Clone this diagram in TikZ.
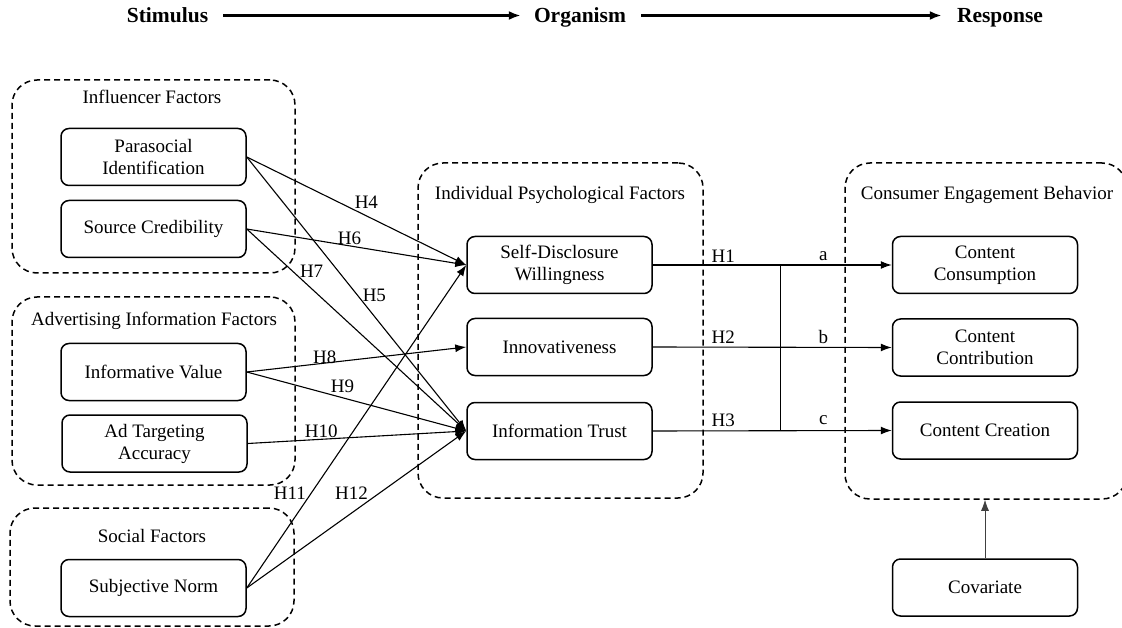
\documentclass[tikz,border=0pt]{standalone}
\usepackage{fontspec}
\setmainfont{Liberation Serif}
\usetikzlibrary{arrows.meta}
\begin{document}
\begin{tikzpicture}[x=1pt,y=-1pt,
  box/.style={draw, line width=1.5pt, rounded corners=8pt, minimum width=185pt, minimum height=57pt, align=center, font=\fontsize{19}{22}\selectfont, inner sep=2pt},
  grp/.style={draw, dash pattern=on 6pt off 4pt, line width=1.5pt, rounded corners=25pt, inner sep=0pt},
  ttl/.style={font=\fontsize{19}{22}\selectfont, inner sep=0pt},
  lbl/.style={font=\fontsize{19}{22}\selectfont, inner sep=0pt},
  arr/.style={line width=1.1pt, -{Latex[length=11pt,width=8pt]}},
  hdr/.style={font=\bfseries\fontsize{21.5}{24}\selectfont, inner sep=0pt, anchor=base},
  harr/.style={line width=2.5pt, -{Latex[length=12pt,width=9pt]}}]
\useasboundingbox (0,0) rectangle (1122,628);

% header
\node[hdr] (stim) at (167.5,23) {Stimulus};
\node[hdr] (org) at (580,23) {Organism};
\node[hdr] (resp) at (1000,23) {Response};
\draw[harr] ([xshift=15pt,yshift=7.5pt]stim.base east) -- ([xshift=-13pt,yshift=7.5pt]org.base west);
\draw[harr] ([xshift=15pt,yshift=7.5pt]org.base east) -- ([xshift=-15pt,yshift=7.5pt]resp.base west);

% groups
\node[grp, minimum width=283pt, minimum height=193pt] (ginf) at (153.5,176.5) {};
\node[grp, minimum width=283pt, minimum height=188pt] (gadv) at (153.5,391) {};
\node[grp, minimum width=284pt, minimum height=118pt] (gsoc) at (152,567) {};
\node[grp, minimum width=285pt, minimum height=335pt] (gind) at (560.5,330.5) {};
\node[grp, minimum width=282pt, minimum height=336pt] (ceb) at (986,331) {};

\node[ttl] (tinf) at (152,97) {Influencer Factors};
\node[ttl] (tadv) at (154,321) {Advertising Information Factors};
\node[ttl] (tsoc) at (152,536) {Social Factors};
\node[ttl] (tind) at (560,195) {Individual Psychological Factors};
\node[ttl] (tceb) at (987,195) {Consumer Engagement Behavior};

% boxes
\node[box] (pi) at (153.5,157) {Parasocial\\Identification};
\node[box] (sc) at (153.5,229) {Source Credibility};
\node[box] (iv) at (153.5,372) {Informative Value};
\node[box] (ata) at (154.5,443.5) {Ad Targeting\\Accuracy};
\node[box] (sn) at (153.5,588) {Subjective Norm};
\node[box] (sd) at (559.5,265) {Self-Disclosure\\Willingness};
\node[box] (inn) at (559.5,347) {Innovativeness};
\node[box] (it) at (559.5,431) {Information Trust};
\node[box] (cc) at (985,265) {Content\\Consumption};
\node[box] (ccb) at (985,347.5) {Content\\Contribution};
\node[box] (ccr) at (985,430.5) {Content Creation};
\node[box] (cov) at (985,587.5) {Covariate};

% left arrows
\draw[arr] (pi.east) -- (sd.west) node[lbl,pos=.545,yshift=14pt] (h4) {H4};
\draw[arr] (pi.east) -- (it.west) node[lbl,pos=.504,xshift=17pt] (h5) {H5};
\draw[arr] (sc.east) -- (sd.west) node[lbl,pos=.468,yshift=8pt] (h6) {H6};
\draw[arr] (sc.east) -- (it.west) node[lbl,pos=.209,xshift=19pt] (h7) {H7};
\draw[arr] (iv.east) -- (inn.west) node[lbl,pos=.355,yshift=6pt] (h8) {H8};
\draw[arr] (iv.east) -- (it.west) node[lbl,pos=.436,yshift=11pt] (h9) {H9};
\draw[arr] (ata.east) -- (it.west) node[lbl,pos=.336,yshift=8pt] (h10) {H10};
\draw[arr] (sn.east) -- (sd.west) node[lbl,pos=.292,xshift=-21pt] (h11) {H11};
\draw[arr] (sn.east) -- (it.west) node[lbl,pos=.477,yshift=20pt] (h12) {H12};

% right arrows
\draw[arr] (sd.east) -- (cc.west) node[lbl,pos=.295,yshift=9pt] (h1) {H1} node[lbl,pos=.714,yshift=9pt] (la) {a} coordinate[pos=.535] (v1);
\draw[arr] (inn.east) -- (ccb.west) node[lbl,pos=.295,yshift=10pt] (h2) {H2} node[lbl,pos=.714,yshift=10pt] (lb) {b};
\draw[arr] (it.east) -- (ccr.west) node[lbl,pos=.295,yshift=11pt] (h3) {H3} node[lbl,pos=.714,yshift=11pt] (lc) {c} coordinate[pos=.535] (v3);
\draw[line width=1.1pt] (v1) -- (v3);

% covariate
\draw[line width=0.8pt, draw=black!75, -{Latex[length=11pt,width=8pt]}] (cov.north) -- (cov.north |- ceb.south);
\end{tikzpicture}
\end{document}
